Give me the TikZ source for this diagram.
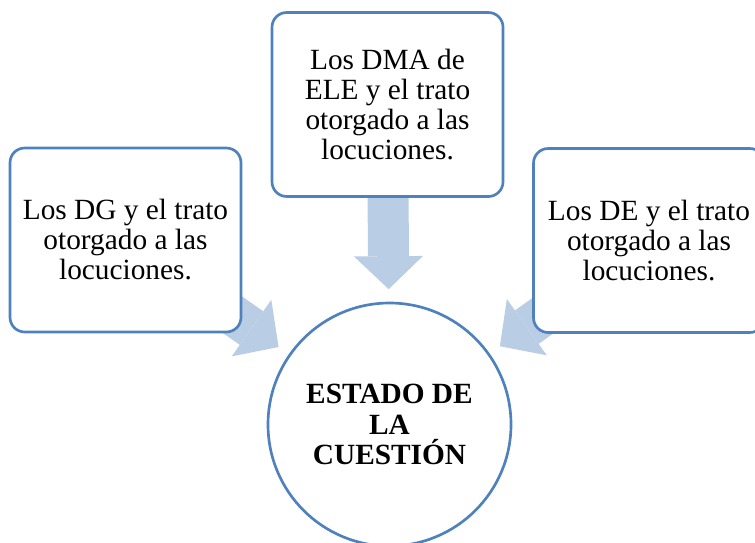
\documentclass[tikz,border=0pt]{standalone}
\usepackage{fontspec}
\setmainfont{Liberation Serif}
\usetikzlibrary{arrows.meta,calc,backgrounds}

\definecolor{lineblue}{HTML}{4F81BD}
\definecolor{arrowblue}{HTML}{B9CDE5}

\begin{document}
\begin{tikzpicture}[x=0.75pt,y=-0.75pt,
    topicbox/.style={draw=lineblue,line width=2pt,fill=white,rounded corners=11pt,
      minimum width=173.25pt,minimum height=138pt,align=center,
      font=\fontsize{22}{22.5}\selectfont},
    statecircle/.style={draw=lineblue,line width=2pt,fill=white,circle,
      minimum size=182.25pt,inner sep=0pt,align=center,
      font=\fontsize{22}{22.8}\selectfont\bfseries},
    blockarrow/.style={arrowblue,line width=30.75pt,
      -{Triangle[length=24.75pt,width=51.75pt,line width=0pt]}}]
  % page frame
  \clip (0,0) rectangle (755,542);
  % central circle
  \node[statecircle] (estado) at (389.5,424.5) {ESTADO DE\\ LA\\ CUESTI\'ON};
  % the three source boxes
  \node[topicbox] (dg) at (125.5,240) {Los DG y el trato\\ otorgado a las\\ locuciones.};
  \node[topicbox] (dma) at (387.5,104.5) {Los DMA de\\ ELE y el trato\\ otorgado a las\\ locuciones.};
  \node[topicbox] (de) at (649,240.5) {Los DE y el trato\\ otorgado a las\\ locuciones.};
  % block arrows, behind the boxes
  \begin{pgfonlayer}{background}
    \foreach \src in {dg,dma,de}
      \draw[blockarrow] (\src.center) -- ($(estado.center)!101.5pt!(\src.center)$);
  \end{pgfonlayer}
\end{tikzpicture}
\end{document}
